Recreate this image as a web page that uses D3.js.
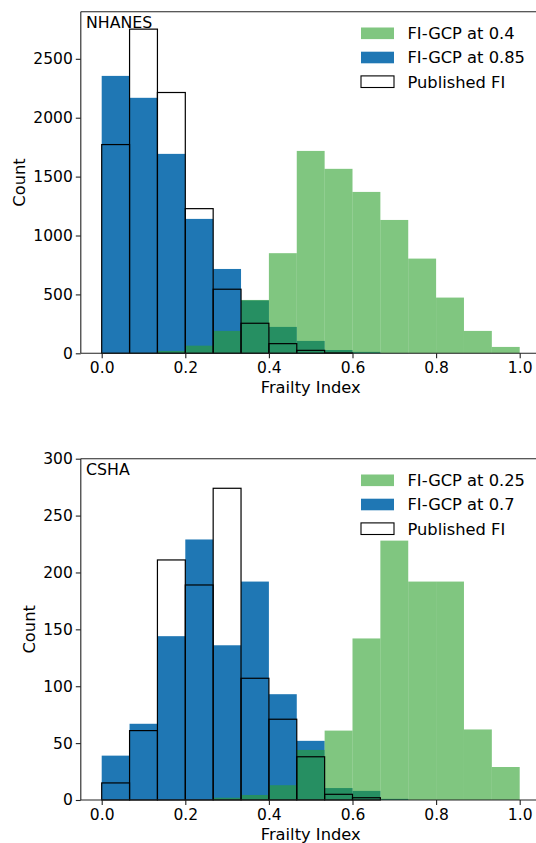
<!DOCTYPE html>
<html>
<head>
<meta charset="utf-8">
<script src="https://cdn.jsdelivr.net/npm/d3@7"></script>
<style>
  html, body { margin: 0; padding: 0; background: #fff; }
  svg { display: block; font-family: "DejaVu Sans", sans-serif; }
</style>
</head>
<body>
<svg id="chart" width="536" height="843"></svg>
<script>
// Histogram bins: 15 equal-width bins over the frailty index range [0, 1]
const binCount = 15;
const xTicks = [0, 0.2, 0.4, 0.6, 0.8, 1.0];

// NHANES counts per bin
const nhanesGcpLow = [0, 3, 20, 65, 190, 453, 850, 1718, 1566, 1370, 1132, 804, 473, 190, 54];
const nhanesGcpHigh = [2355, 2169, 1693, 1141, 716, 449, 224, 105, 28, 12, 1, 0, 0, 0, 0];
const nhanesPublished = [1772, 2752, 2214, 1228, 544, 255, 82, 25, 3, 0, 0, 0, 0, 0, 0];
const nhanesYTicks = [0, 500, 1000, 1500, 2000, 2500];
const nhanesLegend = ["FI-GCP at 0.4", "FI-GCP at 0.85", "Published FI"];

// CSHA counts per bin
const cshaGcpLow = [0, 0, 0, 0, 2, 4.4, 13, 44, 61, 142, 228, 192, 192, 62, 29];
const cshaGcpHigh = [39, 67, 144, 229, 136, 192, 93, 52, 10.5, 8, 1, 0, 0, 0, 0];
const cshaPublished = [15, 61, 211, 189, 274, 107, 71, 38, 5, 2, 0, 0, 0, 0, 0];
const cshaYTicks = [0, 50, 100, 150, 200, 250, 300];
const cshaLegend = ["FI-GCP at 0.25", "FI-GCP at 0.7", "Published FI"];

const GREEN = "#2ca02c", BLUE = "#1f77b4";
const TICK_FONT = 15.5, LABEL_FONT = 16.3;

const svg = d3.select("#chart");

function panel(opts) {
  const { name, low, high, published, yTicks, yMax, legend, top, bottom, countX } = opts;
  const left = 80.8, right = 540.6;
  const x = d3.scaleLinear().domain([-0.05, 1.05]).range([left, right]);
  const y = d3.scaleLinear().domain([0, yMax]).range([bottom, top]);
  const g = svg.append("g");

  const edges = d3.range(binCount + 1).map(i => i / binCount);
  const bars = (vals) => vals.map((v, i) => ({ x0: edges[i], x1: edges[i + 1], v }));

  // higher-threshold series, solid
  g.append("g").selectAll("rect").data(bars(high)).join("rect")
    .attr("x", d => x(d.x0)).attr("width", d => x(d.x1) - x(d.x0))
    .attr("y", d => y(d.v)).attr("height", d => y(0) - y(d.v))
    .attr("fill", BLUE);

  // lower-threshold series, translucent on top
  g.append("g").selectAll("rect").data(bars(low)).join("rect")
    .attr("x", d => x(d.x0)).attr("width", d => x(d.x1) - x(d.x0))
    .attr("y", d => y(d.v)).attr("height", d => y(0) - y(d.v))
    .attr("fill", GREEN).attr("fill-opacity", 0.6);

  // published index as unfilled outlines
  g.append("g").selectAll("rect").data(bars(published)).join("rect")
    .attr("x", d => x(d.x0)).attr("width", d => x(d.x1) - x(d.x0))
    .attr("y", d => y(d.v)).attr("height", d => y(0) - y(d.v))
    .attr("fill", "none").attr("stroke", "#000").attr("stroke-width", 1.2);

  // spines
  const spine = g.append("g").attr("stroke", "#222").attr("stroke-width", 1.1);
  spine.append("line").attr("x1", left).attr("x2", left).attr("y1", top).attr("y2", bottom);
  spine.append("line").attr("x1", left).attr("x2", right).attr("y1", top).attr("y2", top);
  spine.append("line").attr("x1", left).attr("x2", right).attr("y1", bottom).attr("y2", bottom);

  // axes
  const xa = g.append("g").attr("transform", `translate(0,${bottom})`)
    .call(d3.axisBottom(x).tickValues(xTicks).tickFormat(d3.format(".1f")).tickSize(5).tickPadding(4));
  const ya = g.append("g").attr("transform", `translate(${left},0)`)
    .call(d3.axisLeft(y).tickValues(yTicks).tickFormat(d3.format("d")).tickSize(5).tickPadding(3));
  [xa, ya].forEach(a => {
    a.select(".domain").remove();
    a.selectAll(".tick line").attr("stroke", "#222").attr("stroke-width", 1.1);
    a.selectAll(".tick text").attr("fill", "#000").style("font-size", TICK_FONT + "px")
      .style("font-family", "DejaVu Sans");
  });

  // axis titles
  g.append("text").attr("x", (x(0) + x(1)) / 2).attr("y", bottom + 40)
    .attr("text-anchor", "middle").style("font-size", LABEL_FONT + "px").text("Frailty Index");
  g.append("text").attr("transform", `translate(${countX},${(top + bottom) / 2}) rotate(-90)`)
    .attr("text-anchor", "middle").style("font-size", LABEL_FONT + "px").text("Count");

  // panel name
  g.append("text").attr("x", 86).attr("y", top + 16.2)
    .style("font-size", "15.8px").text(name);

  // legend
  const styles = [
    { fill: GREEN, op: 0.6, stroke: "none" },
    { fill: BLUE, op: 1, stroke: "none" },
    { fill: "#fff", op: 1, stroke: "#000" }
  ];
  const lg = g.append("g");
  legend.forEach((label, i) => {
    const cy = top + 21.6 + i * 24.2;
    lg.append("rect").attr("x", 361).attr("y", cy - 5.8).attr("width", 33).attr("height", 11.6)
      .attr("fill", styles[i].fill).attr("fill-opacity", styles[i].op)
      .attr("stroke", styles[i].stroke).attr("stroke-width", 1.1);
    lg.append("text").attr("x", 407.5).attr("y", cy + 5.8)
      .style("font-size", LABEL_FONT + "px").text(label);
  });
}

panel({ name: "NHANES", low: nhanesGcpLow, high: nhanesGcpHigh, published: nhanesPublished,
  yTicks: nhanesYTicks, yMax: 2900, legend: nhanesLegend, top: 11.7, bottom: 353.3, countX: 25 });
panel({ name: "CSHA", low: cshaGcpLow, high: cshaGcpHigh, published: cshaPublished,
  yTicks: cshaYTicks, yMax: 300, legend: cshaLegend, top: 458.7, bottom: 800, countX: 35 });
</script>
</body>
</html>
